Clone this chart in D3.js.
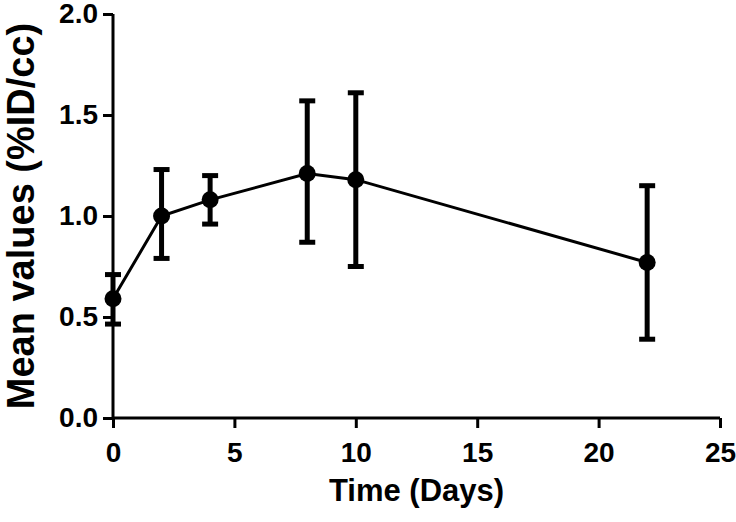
<!DOCTYPE html>
<html>
<head>
<meta charset="utf-8">
<script src="https://cdn.jsdelivr.net/npm/d3@7.9.0/dist/d3.min.js"></script>
<style>
  body { margin: 0; background: #fff; }
  svg text { font-family: "Liberation Sans", Arial, sans-serif; font-weight: bold; fill: #000; }
</style>
</head>
<body>
<svg id="chart" width="736" height="522"></svg>
<script>
// data
const days = [0, 2, 4, 8, 10, 22];
const means = [0.59, 1.00, 1.08, 1.21, 1.18, 0.77];
const upper = [0.71, 1.23, 1.20, 1.57, 1.61, 1.15];
const lower = [0.465, 0.79, 0.96, 0.87, 0.75, 0.39];
const xTicks = [0, 5, 10, 15, 20, 25];
const yTicks = [0.0, 0.5, 1.0, 1.5, 2.0];

const margin = { top: 14, right: 16, bottom: 104, left: 113 };
const width = 736 - margin.left - margin.right;
const height = 522 - margin.top - margin.bottom;

const svg = d3.select('#chart');
const g = svg.append('g').attr('transform', `translate(${margin.left},${margin.top})`);

let x = d3.scaleLinear().domain([0, 25]).range([0, width]);
let y = d3.scaleLinear().domain([0, 2]).range([height, 0]);

// axes
let xAxis = g.append('g')
  .attr('transform', `translate(0,${height})`)
  .call(d3.axisBottom(x).tickValues(xTicks).tickFormat(d3.format('d')).tickSize(10));
let yAxis = g.append('g')
  .call(d3.axisLeft(y).tickValues(yTicks).tickFormat(d3.format('.1f')).tickSize(10).tickPadding(5));

[xAxis, yAxis].forEach(ax => {
  ax.select('.domain').attr('stroke', '#000').attr('stroke-width', 3);
  ax.selectAll('.tick line').attr('stroke', '#000').attr('stroke-width', 3);
  ax.selectAll('.tick text').attr('font-size', 28).attr('fill', '#000');
});
xAxis.select('.domain').attr('d', `M0,0H${width}`);
yAxis.select('.domain').attr('d', `M0,0V${height}`);
xAxis.selectAll('.tick text').attr('y', 44).attr('dy', 0);

const pts = days.map((d, i) => ({ day: d, mean: means[i], hi: upper[i], lo: lower[i] }));

// error bars
let bars = g.append('g').selectAll('g').data(pts).join('g');
bars.append('line')
  .attr('x1', d => x(d.day)).attr('x2', d => x(d.day))
  .attr('y1', d => y(d.hi)).attr('y2', d => y(d.lo))
  .attr('stroke', '#000').attr('stroke-width', 5);
bars.selectAll('.cap').data(d => [[d.day, d.hi], [d.day, d.lo]]).join('line')
  .attr('class', 'cap')
  .attr('x1', d => x(d[0]) - 8).attr('x2', d => x(d[0]) + 8)
  .attr('y1', d => y(d[1])).attr('y2', d => y(d[1]))
  .attr('stroke', '#000').attr('stroke-width', 5);

// mean line
let line = d3.line().x(d => x(d.day)).y(d => y(d.mean));
g.append('path').datum(pts)
  .attr('d', line)
  .attr('fill', 'none').attr('stroke', '#000').attr('stroke-width', 3);

g.append('g').selectAll('circle').data(pts).join('circle')
  .attr('cx', d => x(d.day)).attr('cy', d => y(d.mean)).attr('r', 8.5)
  .attr('fill', '#000');

// axis titles
svg.append('text')
  .attr('x', margin.left + width / 2).attr('y', 501)
  .attr('text-anchor', 'middle').attr('font-size', 31)
  .text('Time (Days)');
svg.append('text')
  .attr('transform', `translate(34,${margin.top + height / 2}) rotate(-90)`)
  .attr('text-anchor', 'middle').attr('font-size', 38)
  .text('Mean values (%ID/cc)');
</script>
</body>
</html>
